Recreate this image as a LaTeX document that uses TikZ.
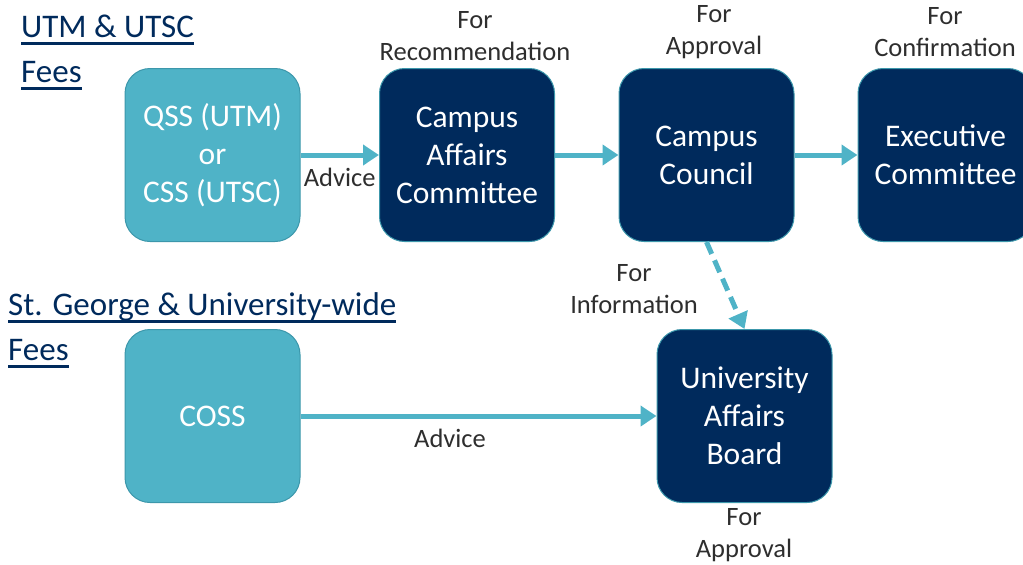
\documentclass[tikz,border=0pt]{standalone}
\usepackage{fontspec}
\setmainfont{Carlito}
\usetikzlibrary{arrows.meta,positioning}

\definecolor{navyblue}{HTML}{002A5C}
\definecolor{lightteal}{HTML}{4FB3C7}
\definecolor{tealedge}{HTML}{3C97AB}
\definecolor{notegray}{HTML}{2E2E2E}

\tikzset{
  box/.style={minimum width=175pt, minimum height=173pt, rounded corners=25pt,
    align=center, text=white, font=\fontsize{31.5}{38}\selectfont,
    line width=1pt, inner sep=0pt},
  advbox/.style={box, fill=lightteal, draw=tealedge},
  govbox/.style={box, fill=navyblue, draw=tealedge},
  flow/.style={draw=lightteal, line width=5pt, -{Triangle[length=16pt,width=20pt]}},
  note/.style={align=center, text=notegray, font=\fontsize{26.5}{32}\selectfont, inner sep=0pt},
  heading/.style={anchor=base west, text=navyblue, font=\fontsize{33}{40}\selectfont, inner sep=0pt},
  headrule/.style={draw=navyblue, line width=2.5pt},
}

\begin{document}
\begin{tikzpicture}[x=1pt,y=-1pt]
\useasboundingbox (0,0) rectangle (1023,565);

% headings
\node[heading] (utm) at (21,37) {UTM \& UTSC};
\node[heading] (utmfees) at (21,82) {Fees};
\node[heading] (stg) at (8,315) {St. George \& University-wide};
\node[heading] (stgfees) at (8,360) {Fees};
\foreach \h in {utm,utmfees,stg,stgfees}
  \draw[headrule] ([yshift=-6.5pt]\h.base west) -- ([yshift=-6.5pt]\h.base east);

% campus fees
\node[advbox] (qss) at (212.5,155) {QSS (UTM)\\or\\CSS (UTSC)};
\node[govbox] (cac) at (467,155) {Campus\\Affairs\\Committee};
\node[govbox] (cc) at (706.5,155) {Campus\\Council};
\node[govbox] (exec) at (945.5,155) {Executive\\Committee};

% university-wide fees
\node[advbox] (coss) at (212.5,416) {COSS};
\node[govbox] (uab) at (744.5,416) {University\\Affairs\\Board};

\node[note] (recnote) at (475,36) {For\\Recommendation};
\node[note] (appnote) at (714,32) {For\\Approval};
\node[note] (confnote) at (945,32) {For\\Confirmation};
\node[note] (infonote) at (634,289) {For\\Information};
\node[note] (uabnote) at (744,535) {For\\Approval};

\draw[flow] (qss) -- (cac) node[note, midway, below=11pt] {Advice};
\draw[flow] (cac) -- (cc);
\draw[flow] (cc) -- (exec);
\draw[flow, dash pattern=on 13pt off 7pt] (cc.south) -- (uab.north);
\draw[flow] (coss) -- (uab) node[note, pos=0.42, below=11pt] {Advice};
\end{tikzpicture}
\end{document}
